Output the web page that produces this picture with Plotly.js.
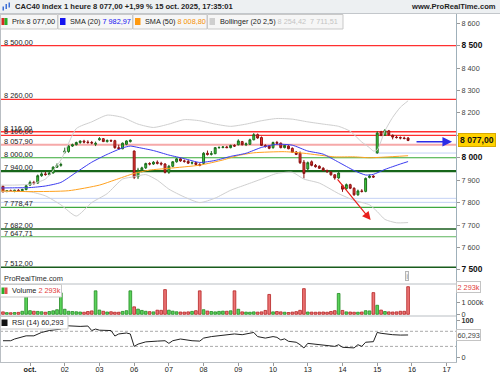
<!DOCTYPE html>
<html><head><meta charset="utf-8">
<script src="https://cdn.plot.ly/plotly-3.0.1.min.js"></script>
<style>html,body{margin:0;padding:0;background:#fff}#chart{width:500px;height:375px}</style>
</head><body><div id="chart"></div>
<script>
// ---------- DATA (hourly bars, index 0 = 1 Oct 09:00; 9 bars per session) ----------
const firstBar = -7;
const dayTickIdx = [0, 9, 18, 27, 36, 45, 54, 63, 72, 81, 90, 99, 108];
const dayLabels = ['<b>oct.</b>', '02', '03', '06', '07', '08', '09', '10', '13', '14', '15', '16', '17'];

const open = [
  7873, 7850, 7853, 7850, 7855, 7853, 7858,
  7878, 7890, 7887, 7920, 7928, 7925, 7932, 7958, 7966,
  8025, 8028, 8052, 8058, 8068, 8074, 8070, 8068, 8060,
  8080, 8085, 8072, 8077, 8076, 8045, 8040, 8060, 8072,
  8030, 7915, 7945, 7955, 7974, 7972, 7980, 7975, 7972,
  7935, 7962, 7982, 7995, 7986, 7984, 7976, 7978, 7970,
  7975, 8020, 8015, 8018, 8045, 8046, 8048, 8045, 8055,
  8058, 8072, 8058, 8060, 8080, 8103, 8090, 8055, 8052,
  8045, 8068, 8065, 8045, 8052, 8042, 8025, 8020, 7980,
  7950, 7982, 7966, 7962, 7953, 7944, 7936, 7924, 7910,
  7875, 7862, 7880, 7864, 7835, 7852, 7850, 7912, 7918,
  8022, 8115, 8100, 8120, 8100, 8092, 8090, 8088, 8088];
const high = [
  7876, 7856, 7858, 7857, 7860, 7862, 7880,
  7898, 7897, 7925, 7935, 7938, 7940, 7962, 7975, 7978,
  8045, 8056, 8063, 8072, 8078, 8080, 8078, 8075, 8072,
  8092, 8088, 8082, 8082, 8080, 8058, 8068, 8078, 8082,
  8032, 7955, 7960, 7978, 7980, 7985, 7988, 7982, 7976,
  7968, 7985, 7998, 7998, 7992, 7990, 7984, 7982, 7976,
  8025, 8032, 8030, 8048, 8050, 8052, 8053, 8058, 8060,
  8082, 8075, 8068, 8085, 8110, 8108, 8095, 8060, 8056,
  8072, 8075, 8068, 8058, 8056, 8046, 8030, 8028, 7990,
  7983, 7988, 7972, 7966, 7958, 7946, 7940, 7926, 7936,
  7880, 7885, 7884, 7868, 7858, 7860, 7912, 7925, 7922,
  8118, 8120, 8128, 8124, 8104, 8098, 8095, 8094, 8092];
const low = [
  7845, 7846, 7848, 7846, 7850, 7849, 7855,
  7875, 7880, 7884, 7915, 7920, 7922, 7930, 7955, 7960,
  8018, 8022, 8048, 8055, 8062, 8064, 8062, 8060, 8052,
  8076, 8070, 8068, 8070, 8040, 8036, 8038, 8056, 8068,
  7905, 7905, 7935, 7950, 7966, 7968, 7970, 7965, 7930,
  7928, 7958, 7978, 7982, 7978, 7972, 7970, 7966, 7962,
  7972, 8010, 8010, 8016, 8040, 8042, 8043, 8042, 8048,
  8055, 8055, 8052, 8058, 8078, 8085, 8052, 8045, 8038,
  8040, 8060, 8042, 8042, 8038, 8022, 8012, 7972, 7908,
  7945, 7962, 7956, 7950, 7940, 7932, 7920, 7902, 7906,
  7848, 7858, 7860, 7830, 7830, 7845, 7846, 7908, 7910,
  8018, 8096, 8098, 8098, 8082, 8086, 8082, 8082, 8074];
const close = [
  7848, 7853, 7850, 7855, 7853, 7858, 7875,
  7890, 7887, 7920, 7928, 7925, 7932, 7958, 7966, 7970,
  8030, 8052, 8058, 8068, 8074, 8070, 8068, 8066, 8064,
  8085, 8072, 8077, 8075, 8045, 8040, 8065, 8075, 8078,
  7912, 7945, 7955, 7974, 7972, 7980, 7975, 7972, 7935,
  7962, 7982, 7995, 7986, 7984, 7976, 7978, 7970, 7966,
  8020, 8015, 8018, 8045, 8046, 8048, 8045, 8055, 8052,
  8075, 8058, 8062, 8080, 8103, 8088, 8055, 8050, 8042,
  8068, 8065, 8045, 8055, 8040, 8025, 8015, 7978, 7930,
  7978, 7966, 7960, 7953, 7944, 7938, 7924, 7910, 7932,
  7860, 7880, 7864, 7835, 7852, 7850, 7908, 7918, 7914,
  8110, 8100, 8122, 8102, 8092, 8090, 8088, 8086, 8077];
const volumeK = [
  200, 140, 130, 150, 160, 250, 1780,
  300, 250, 240, 210, 170, 230, 290, 380, 1780,
  420, 250, 230, 210, 190, 170, 230, 280, 1950,
  350, 250, 190, 210, 170, 170, 240, 300, 1950,
  620, 430, 320, 250, 220, 200, 340, 330, 2050,
  340, 260, 210, 190, 180, 200, 240, 300, 1950,
  380, 270, 230, 200, 240, 260, 250, 290, 1950,
  420, 200, 180, 170, 200, 180, 200, 320, 1650,
  200, 230, 200, 170, 150, 180, 220, 330, 2130,
  190, 180, 170, 180, 190, 170, 230, 300, 1730,
  320, 200, 190, 170, 170, 190, 300, 280, 1800,
  750, 350, 230, 200, 190, 200, 250, 250, 2293];

// indicator readings (bar index, value)
const sma20X = [-8, -4, 0, 4, 8, 12, 16, 20, 24, 26, 28, 32, 36, 40, 44, 48, 52, 56, 60, 64, 68, 72, 76, 80, 84, 87, 89, 92, 96, 98];
const sma20Y = [7865, 7866, 7867, 7874, 7890, 7935, 7980, 8015, 8044, 8052, 8046, 8032, 8012, 7996, 7979, 7988, 8006, 8020, 8046, 8060, 8056, 8030, 8016, 7980, 7943, 7923, 7926, 7948, 7972, 7983];
const sma50X = [-8, 0, 10, 18, 22, 27, 31, 36, 44, 50, 54, 58, 66, 71, 79, 84, 88, 92, 98];
const sma50Y = [7852, 7849, 7853, 7878, 7901, 7930, 7945, 7953, 7967, 7990, 8010, 8022, 8027, 8020, 8004, 8004, 8000, 8003, 8009];
const bollUpX = [-8, -4, 0, 4, 8, 12, 16, 20, 24, 28, 32, 36, 40, 44, 48, 52, 56, 60, 64, 68, 72, 76, 80, 83, 86, 88, 89, 90, 92, 94, 96, 98];
const bollUpY = [7878, 7878, 7882, 7905, 7990, 8130, 8160, 8190, 8180, 8150, 8135, 8150, 8170, 8165, 8150, 8140, 8150, 8165, 8175, 8172, 8160, 8150, 8140, 8118, 8070, 8045, 8030, 8035, 8120, 8180, 8225, 8254];
const bollLoX = [-8, -4, 0, 4, 8, 12, 16, 20, 24, 27, 30, 33, 36, 40, 44, 48, 52, 56, 60, 64, 68, 71, 75, 80, 84, 88, 90, 92, 95, 98];
const bollLoY = [7848, 7850, 7848, 7830, 7790, 7740, 7800, 7840, 7905, 7915, 7925, 7900, 7860, 7825, 7800, 7820, 7855, 7880, 7905, 7930, 7935, 7905, 7887, 7840, 7810, 7790, 7760, 7725, 7710, 7711];
const rsiX = [-7, -5, -4, -2, -1, 1, 2, 3, 5, 7, 8, 9, 13, 15, 16, 17, 18, 21, 22, 23, 25, 26, 27, 28, 30, 33, 35, 36, 37, 39, 42, 44, 45, 47, 49, 51, 53, 55, 56, 57, 58, 59, 61, 63, 64, 65, 66, 67, 69, 70, 71, 72, 76, 79, 80, 81, 84, 85, 86, 87, 89, 90, 91, 92, 94, 96, 98];
const rsiY = [45, 45, 49.6, 54, 58, 58, 63, 67, 72, 73.5, 76, 85, 83, 84, 72, 76, 73, 72, 57.5, 63, 65.5, 63, 30, 36, 42, 44, 45, 38, 45, 49.6, 45, 44, 52, 56, 58, 61, 63, 61, 63, 67, 67, 56, 52, 56, 54, 47, 50, 43.5, 41, 34.5, 25.7, 38, 33.7, 30, 34.5, 27.6, 26, 34.5, 30, 41, 42.5, 67, 64.7, 63, 61, 60, 60.3];

// horizontal levels
const levelValues = [8500, 8260, 8116, 8100, 8057.9, 8000, 7940, 7778.47, 7682, 7647.71, 7512];
const levelLabels = ['8 500,00', '8 260,00', '8 116,00', '8 100,00', '8 057,90', '8 000,00', '7 940,00', '7 778,47', '7 682,00', '7 647,71', '7 512,00'];
const levelColors = ['#ff3030', '#ff3030', '#ff3030', '#ff3030', '#f6a9a9', '#34a834', '#17661a', '#3fa83f', '#195c1c', '#5cb45c', '#195c1c'];
const levelWidths = [1.3, 1.3, 1.3, 1.3, 2.2, 1.2, 2.2, 1.2, 1.5, 1.2, 1.5];
const lightLevels = [7819, 7801];
const gapLine = {from: 89.5, value: 8021};
const redArrow = {x0: 79.4, y0: 7910, x1: 88.3, y1: 7722};
const blueArrow = {x0: 99.8, y0: 8071, x1: 109.4, y1: 8071};

const priceTicks = [7500, 7600, 7700, 7800, 7900, 8000, 8100, 8200, 8300, 8400, 8500, 8600];
const priceTickText = ['7 500', '7 600', '7 700', '7 800', '7 900', '8 000', '8 100', '8 200', '8 300', '8 400', '8 500', '8 600'];
const priceTickMajor = [7500, 8000, 8500];

const lastPrice = 8077.00, lastPriceText = '8 077,00';
const lastVolumeK = 2293, lastVolumeText = '2 293k';
const lastRsi = 60.293, lastRsiText = '60,293';
const titleText = 'CAC40 Index 1 heure 8 077,00 +1,99 % 15 oct. 2025, 17:35:01';

// ---------- LAYOUT HELPERS ----------
const W = 500, H = 375, ML = 0, MR = 44, MT = 14, MB = 13;
const PW = W - ML - MR, PH = H - MT - MB;
const px = x => (x - ML) / PW;
const py = y => (H - MB - y) / PH;
const FONT = 'Liberation Sans, Arial, sans-serif';

const barX = open.map((_, k) => k + firstBar);
const volColors = open.map((o, k) => close[k] >= o ? '#5ad35a' : '#ec7474');
const volLines = open.map((o, k) => close[k] >= o ? '#238a23' : '#b42222');
const priceTickLabels = priceTicks.map((v, k) => priceTickMajor.includes(v)
  ? '<span style="font-size:8.4px;color:#111"><b>' + priceTickText[k] + '</b></span>'
  : priceTickText[k]);

const traces = [
  {type: 'scatter', mode: 'lines', x: bollUpX, y: bollUpY, xaxis: 'x', yaxis: 'y', line: {color: '#cfcfcf', width: 1, shape: 'spline', smoothing: 0.6}, hoverinfo: 'skip'},
  {type: 'scatter', mode: 'lines', x: bollLoX, y: bollLoY, xaxis: 'x', yaxis: 'y', line: {color: '#cfcfcf', width: 1, shape: 'spline', smoothing: 0.6}, hoverinfo: 'skip'},
  {type: 'scatter', mode: 'lines', x: sma50X, y: sma50Y, xaxis: 'x', yaxis: 'y', line: {color: '#ffa21f', width: 1, shape: 'spline', smoothing: 0.6}, hoverinfo: 'skip'},
  {type: 'scatter', mode: 'lines', x: sma20X, y: sma20Y, xaxis: 'x', yaxis: 'y', line: {color: '#3b3bf0', width: 1, shape: 'spline', smoothing: 0.6}, hoverinfo: 'skip'},
  {type: 'candlestick', x: barX, open: open, high: high, low: low, close: close, xaxis: 'x', yaxis: 'y',
   increasing: {line: {color: '#1d6b1d', width: 1}, fillcolor: '#3fd23f'},
   decreasing: {line: {color: '#8c1111', width: 1}, fillcolor: '#e63a34'},
   whiskerwidth: 0, hoverinfo: 'skip'},
  {type: 'bar', x: barX, y: volumeK, xaxis: 'x', yaxis: 'y2', marker: {color: volColors, line: {color: volLines, width: 0.8}}, hoverinfo: 'skip'},
  {type: 'scatter', mode: 'lines', x: rsiX, y: rsiY, xaxis: 'x', yaxis: 'y3', line: {color: '#222', width: 1}, hoverinfo: 'skip'}
];

const shapes = [];
const annotations = [];

// title bar
shapes.push({type: 'rect', xref: 'paper', yref: 'paper', x0: px(0), x1: px(500), y0: py(13), y1: py(0), fillcolor: '#edf0f2', line: {width: 0}, layer: 'above'});
shapes.push({type: 'line', xref: 'paper', yref: 'paper', x0: px(0), x1: px(500), y0: py(13.5), y1: py(13.5), line: {color: '#c3c7cb', width: 1}, layer: 'above'});
[[2.5, 6.5, 4, 10.5], [5.5, 4, 7, 9], [8.5, 2.5, 10, 7.5]].forEach(r => shapes.push({type: 'rect', xref: 'paper', yref: 'paper', x0: px(r[0]), x1: px(r[2]), y0: py(r[3]), y1: py(r[1]), fillcolor: '#3d6fd6', line: {width: 0}, layer: 'above'}));
annotations.push({xref: 'paper', yref: 'paper', x: px(13), y: py(7), xanchor: 'left', yanchor: 'middle', showarrow: false, text: '<b>' + titleText + '</b>', font: {family: FONT, size: 7.6, color: '#1f1f1f'}});
annotations.push({xref: 'paper', yref: 'paper', x: px(498), y: py(7), xanchor: 'right', yanchor: 'middle', showarrow: false, text: '<b>www.ProRealTime.com</b>', font: {family: FONT, size: 7.6, color: '#1f1f1f'}});

// level lines + labels
levelValues.forEach((v, k) => {
  shapes.push({type: 'line', xref: 'paper', yref: 'y', x0: 0, x1: 1, y0: v, y1: v, line: {color: levelColors[k], width: levelWidths[k]}, layer: 'below'});
  annotations.push({xref: 'paper', yref: 'y', x: px(2), y: v, xanchor: 'left', yanchor: 'bottom', yshift: -3, showarrow: false, text: levelLabels[k], font: {family: FONT, size: 7.4, color: '#222'}});
});
lightLevels.forEach(v => shapes.push({type: 'line', xref: 'paper', yref: 'y', x0: 0, x1: 1, y0: v, y1: v, line: {color: '#c4d2f5', width: 1}, layer: 'below'}));
shapes.push({type: 'line', xref: 'x', yref: 'y', x0: gapLine.from, x1: 110.42, y0: gapLine.value, y1: gapLine.value, line: {color: '#c4d2f5', width: 1}, layer: 'below'});

// RSI dashed 70 / 30
[70, 30].forEach(v => shapes.push({type: 'line', xref: 'paper', yref: 'y3', x0: 0, x1: 1, y0: v, y1: v, line: {color: '#aaa', width: 1, dash: '3px,2px'}, layer: 'below'}));

// panel separators and left border
[284, 316].forEach(yy => shapes.push({type: 'line', xref: 'paper', yref: 'paper', x0: 0, x1: 1, y0: py(yy), y1: py(yy), line: {color: '#b9bec3', width: 1}, layer: 'above'}));
shapes.push({type: 'line', xref: 'paper', yref: 'paper', x0: px(0.5), x1: px(0.5), y0: 0, y1: py(14), line: {color: '#b9bec3', width: 1}, layer: 'above'});

// legend row
const legBoxes = [[0, 57.5], [57.5, 132.5], [132.5, 207], [207, 343]];
legBoxes.forEach(b => shapes.push({type: 'rect', xref: 'paper', yref: 'paper', x0: px(b[0] + 0.5), x1: px(b[1]), y0: py(29), y1: py(14.5), fillcolor: '#f6f6f6', line: {color: '#c9c9c9', width: 1}, layer: 'above'}));
const legIcons = [[1.5, 4.5, '#d62a22'], [4.5, 7.5, '#29b029'], [60, 65.5, '#1414f0'], [135, 140.5, '#ff9a10'], [209.5, 215, '#cfcfcf']];
legIcons.forEach(c => shapes.push({type: 'rect', xref: 'paper', yref: 'paper', x0: px(c[0]), x1: px(c[1]), y0: py(25), y1: py(18), fillcolor: c[2], line: {width: 0}, layer: 'above'}));
const legTexts = [
  [10, 'Prix 8 077,00'],
  [68, 'SMA (20) <span style="color:#1414f0">7 982,97</span>'],
  [143, 'SMA (50) <span style="color:#f59000">8 008,80</span>'],
  [218, 'Bollinger (20 2,5) <span style="color:#c4c4c4">8 254,42  7 711,51</span>']
];
legTexts.forEach(t => annotations.push({xref: 'paper', yref: 'paper', x: px(t[0]), y: py(21.7), xanchor: 'left', yanchor: 'middle', showarrow: false, text: t[1], font: {family: FONT, size: 7.3, color: '#222'}}));

// volume and RSI panel labels
shapes.push({type: 'rect', xref: 'paper', yref: 'paper', x0: px(0.5), x1: px(61.5), y0: py(297), y1: py(284.5), fillcolor: '#ffffff', line: {color: '#c9c9c9', width: 1}, layer: 'above'});
shapes.push({type: 'rect', xref: 'paper', yref: 'paper', x0: px(1.5), x1: px(4.5), y0: py(294), y1: py(287.5), fillcolor: '#29b029', line: {width: 0}, layer: 'above'});
shapes.push({type: 'rect', xref: 'paper', yref: 'paper', x0: px(4.5), x1: px(7.5), y0: py(294), y1: py(287.5), fillcolor: '#e05050', line: {width: 0}, layer: 'above'});
annotations.push({xref: 'paper', yref: 'paper', x: px(10), y: py(290.8), xanchor: 'left', yanchor: 'middle', showarrow: false, text: 'Volume <span style="color:#e23c3c">2 293k</span>', font: {family: FONT, size: 7.3, color: '#222'}});
shapes.push({type: 'rect', xref: 'paper', yref: 'paper', x0: px(0.5), x1: px(68), y0: py(329), y1: py(316.5), fillcolor: '#ffffff', line: {color: '#c9c9c9', width: 1}, layer: 'above'});
shapes.push({type: 'rect', xref: 'paper', yref: 'paper', x0: px(1.5), x1: px(7.5), y0: py(326), y1: py(319.5), fillcolor: '#111', line: {width: 0}, layer: 'above'});
annotations.push({xref: 'paper', yref: 'paper', x: px(10), y: py(322.8), xanchor: 'left', yanchor: 'middle', showarrow: false, text: 'RSI (14) 60,293', font: {family: FONT, size: 7.3, color: '#222'}});

// watermark + info icon
annotations.push({xref: 'paper', yref: 'paper', x: px(1.5), y: py(278.5), xanchor: 'left', yanchor: 'middle', showarrow: false, text: 'ProRealTime.com', font: {family: FONT, size: 7.4, color: '#2a2a2a'}});
annotations.push({xref: 'paper', yref: 'paper', x: px(406.5), y: py(275.5), xanchor: 'center', yanchor: 'middle', showarrow: false, text: 'i', bordercolor: '#b5b5b5', borderwidth: 1, borderpad: 0.5, bgcolor: '#f4f4f4', font: {family: FONT, size: 6.5, color: '#888'}});

// right-side value boxes
annotations.push({xref: 'paper', yref: 'y', x: px(457.5), y: lastPrice, xanchor: 'left', yanchor: 'middle', showarrow: false, text: '<b>' + lastPriceText + '</b>', bgcolor: '#ffd200', bordercolor: '#d8aa00', borderwidth: 1, borderpad: 1, font: {family: FONT, size: 8.6, color: '#111'}});
annotations.push({xref: 'paper', yref: 'y2', x: px(456), y: lastVolumeK, xanchor: 'left', yanchor: 'middle', showarrow: false, text: lastVolumeText, bgcolor: '#ffffff', bordercolor: '#c4c4c4', borderwidth: 1, borderpad: 0.5, font: {family: FONT, size: 7.3, color: '#e23c3c'}});
annotations.push({xref: 'paper', yref: 'y3', x: px(456), y: lastRsi, xanchor: 'left', yanchor: 'middle', showarrow: false, text: lastRsiText, bgcolor: '#ffffff', bordercolor: '#c4c4c4', borderwidth: 1, borderpad: 0.5, font: {family: FONT, size: 7.3, color: '#444'}});

// arrows
annotations.push({xref: 'x', yref: 'y', axref: 'x', ayref: 'y', x: redArrow.x1, y: redArrow.y1, ax: redArrow.x0, ay: redArrow.y0, showarrow: true, text: '', arrowhead: 2, arrowsize: 1.4, arrowwidth: 1.2, arrowcolor: '#e8201c', standoff: 0});
annotations.push({xref: 'x', yref: 'y', axref: 'x', ayref: 'y', x: blueArrow.x1, y: blueArrow.y1, ax: blueArrow.x0, ay: blueArrow.y0, showarrow: true, text: '', arrowhead: 2, arrowsize: 1.2, arrowwidth: 1.6, arrowcolor: '#2b2be6', standoff: 0});

const axisLine = '#9fb0ba';
const layout = {
  width: W, height: H,
  margin: {l: ML, r: MR, t: MT, b: MB, pad: 0},
  paper_bgcolor: '#ffffff', plot_bgcolor: '#ffffff',
  showlegend: false, bargap: 0.3, dragmode: false,
  font: {family: FONT, size: 7.3, color: '#222'},
  xaxis: {
    range: [-7.776, 110.42], anchor: 'y3', domain: [0, 1],
    tickvals: dayTickIdx, ticktext: dayLabels, tickfont: {family: FONT, size: 7.3, color: '#222'},
    ticks: 'outside', ticklen: 3, tickcolor: '#999', ticklabelstandoff: -3,
    showline: true, linecolor: '#b9bec3', linewidth: 1,
    showgrid: false, zeroline: false, rangeslider: {visible: false}, fixedrange: true
  },
  yaxis: {
    domain: [py(284), 1], range: [7437, 8641], anchor: 'x', side: 'right',
    tickvals: priceTicks, ticktext: priceTickLabels, tickfont: {family: FONT, size: 7.3, color: '#444'},
    ticks: 'outside', ticklen: 3, tickcolor: '#999', showline: true, linecolor: axisLine, linewidth: 1,
    showgrid: false, zeroline: false, fixedrange: true
  },
  yaxis2: {
    domain: [py(316), py(284)], range: [-141, 2517], anchor: 'x', side: 'right',
    tickvals: [0, 1000], ticktext: ['0', '1 000k'], tickfont: {family: FONT, size: 7.3, color: '#333'},
    ticks: 'outside', ticklen: 3, tickcolor: '#999', showline: true, linecolor: axisLine, linewidth: 1,
    showgrid: false, zeroline: false, fixedrange: true
  },
  yaxis3: {
    domain: [0, py(316)], range: [-11.4, 110.6], anchor: 'x', side: 'right',
    tickvals: [0, 50, 100], ticktext: ['0', '50', '<b>100</b>'], tickfont: {family: FONT, size: 7.3, color: '#333'},
    ticks: 'outside', ticklen: 3, tickcolor: '#999', showline: true, linecolor: axisLine, linewidth: 1,
    showgrid: false, zeroline: false, fixedrange: true
  },
  shapes: shapes,
  annotations: annotations
};

Plotly.newPlot('chart', traces, layout, {displayModeBar: false, staticPlot: true});
</script>
</body></html>
